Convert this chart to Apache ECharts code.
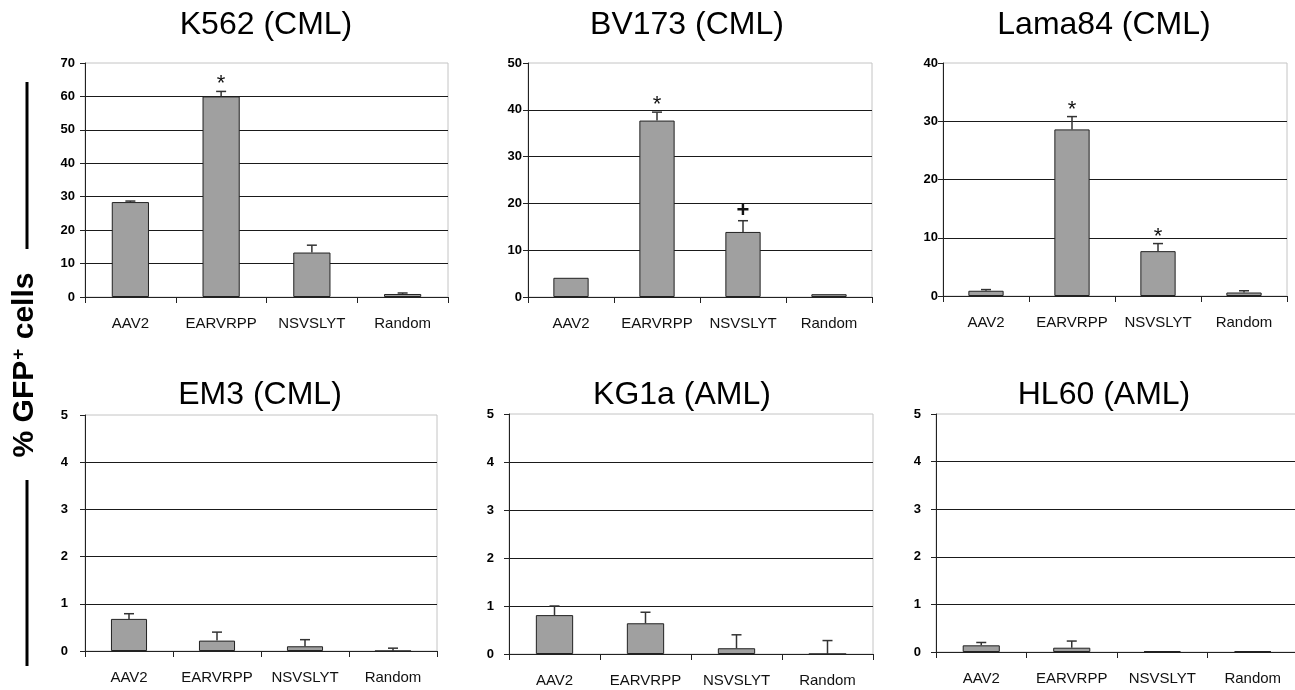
<!DOCTYPE html>
<html><head><meta charset="utf-8">
<script src="https://cdn.jsdelivr.net/npm/echarts@6/dist/echarts.min.js"></script>
<style>html,body{margin:0;padding:0;background:#fff}#c{width:1295px;height:690px}</style>
</head><body><div id="c"></div>
<script>
// ---------- data ----------
const categories = ['AAV2', 'EARVRPP', 'NSVSLYT', 'Random'];
const panelTitles = ['K562 (CML)', 'BV173 (CML)', 'Lama84 (CML)', 'EM3 (CML)', 'KG1a (AML)', 'HL60 (AML)'];

const k562Mean = [28.4, 60.0, 13.3, 0.9];
const k562Err = [0.3, 1.5, 2.2, 0.3];
const k562Marks = ['', '*', '', ''];

const bv173Mean = [4.1, 37.7, 13.9, 0.6];
const bv173Err = [0, 1.8, 2.4, 0];
const bv173Marks = ['', '*', '+', ''];

const lama84Mean = [0.9, 28.6, 7.7, 0.6];
const lama84Err = [0.2, 2.2, 1.3, 0.3];
const lama84Marks = ['', '*', '*', ''];

const em3Mean = [0.68, 0.22, 0.10, 0];
const em3Err = [0.11, 0.18, 0.14, 0.06];
const em3Marks = ['', '', '', ''];

const kg1aMean = [0.81, 0.64, 0.12, 0];
const kg1aErr = [0.19, 0.23, 0.28, 0.28];
const kg1aMarks = ['', '', '', ''];

const hl60Mean = [0.14, 0.09, 0.02, 0.02];
const hl60Err = [0.06, 0.14, 0, 0];
const hl60Marks = ['', '', '', ''];

const yMaxes = [70, 50, 40, 5, 5, 5];
const yIntervals = [10, 10, 10, 1, 1, 1];

// ---------- build ----------
const panels = [
  [k562Mean, k562Err, k562Marks],
  [bv173Mean, bv173Err, bv173Marks],
  [lama84Mean, lama84Err, lama84Marks],
  [em3Mean, em3Err, em3Marks],
  [kg1aMean, kg1aErr, kg1aMarks],
  [hl60Mean, hl60Err, hl60Marks]
];
const layout = [
  {left: 85,  top: 63,  width: 363, height: 234, tx: 266, ty: 25, lm: 10},
  {left: 528, top: 63,  width: 344, height: 234, tx: 687, ty: 25, lm: 6},
  {left: 943, top: 63,  width: 344, height: 233, tx: 1104, ty: 25, lm: 5},
  {left: 85,  top: 415, width: 352, height: 236, tx: 260, ty: 395, lm: 17},
  {left: 509, top: 414, width: 364, height: 240, tx: 682, ty: 395, lm: 15},
  {left: 936, top: 414, width: 362, height: 238, tx: 1104, ty: 395, lm: 15}
];
const FONT = "'Liberation Sans', Arial, sans-serif";

const grid = [], xAxis = [], yAxis = [], series = [], graphic = [];
panels.forEach(function (p, k) {
  const L = layout[k];
  grid.push({left: L.left, top: L.top, width: L.width, height: L.height,
    show: true, borderColor: '#c4c4c4', borderWidth: 1, outerBoundsMode: 'none', containLabel: false});
  xAxis.push({type: 'category', gridIndex: k, data: categories,
    axisLine: {lineStyle: {color: '#222', width: 1}},
    axisTick: {show: true, length: 6, lineStyle: {color: '#222'}},
    axisLabel: {color: '#111', fontSize: 15, fontFamily: FONT, margin: 19, interval: 0},
    splitLine: {show: false}});
  yAxis.push({type: 'value', gridIndex: k, min: 0, max: yMaxes[k], interval: yIntervals[k],
    axisLine: {show: true, lineStyle: {color: '#222', width: 1}},
    axisTick: {show: true, length: 5, lineStyle: {color: '#222'}},
    axisLabel: {color: '#000', fontSize: 13, fontWeight: 'bold', fontFamily: FONT, margin: L.lm},
    splitLine: {show: true, showMaxLine: false, lineStyle: {color: '#1a1a1a', width: 1}}});
  series.push({type: 'bar', xAxisIndex: k, yAxisIndex: k, data: p[0], barWidth: '41%',
    itemStyle: {color: '#a0a0a0', borderColor: '#222', borderWidth: 1}, silent: true, z: 2});
  const marks = p[2];
  series.push({type: 'custom', xAxisIndex: k, yAxisIndex: k, z: 5, silent: true, clip: false,
    data: p[0].map(function (m, i) { return [i, m, m + p[1][i]]; }),
    renderItem: function (params, api) {
      const i = api.value(0), m = api.value(1), t = api.value(2);
      const b = api.coord([i, m]), tp = api.coord([i, t]);
      const ch = [];
      if (t > m) {
        ch.push({type: 'line', shape: {x1: b[0], y1: b[1], x2: tp[0], y2: tp[1]}, style: {stroke: '#333', lineWidth: 1.5}});
        ch.push({type: 'line', shape: {x1: tp[0] - 5, y1: tp[1], x2: tp[0] + 5, y2: tp[1]}, style: {stroke: '#333', lineWidth: 1.5}});
      }
      const mk = marks[params.dataIndex];
      if (mk) {
        const isPlus = mk === '+';
        ch.push({type: 'text', style: {text: mk, x: tp[0], y: tp[1] - (isPlus ? 10 : 7), align: 'center', verticalAlign: 'middle',
          fontSize: 22, fontWeight: isPlus ? 'bold' : 'normal', fontFamily: FONT, fill: '#111'}});
      }
      return {type: 'group', children: ch};
    }});
  graphic.push({type: 'text', x: L.tx, y: L.ty, silent: true,
    style: {text: panelTitles[k], align: 'center', verticalAlign: 'middle', fontSize: 32, fontFamily: FONT, fill: '#000'}});
});

graphic.push({type: 'text', x: 25, y: 365, rotation: Math.PI / 2, silent: true,
  style: {text: '% GFP{sup|+} cells', align: 'center', verticalAlign: 'middle', fontSize: 30, fontWeight: 'bold', fontFamily: FONT, fill: '#000',
    rich: {sup: {fontSize: 19, fontWeight: 'bold', fontFamily: FONT, fill: '#000', verticalAlign: 'top', padding: [0, 1, 12, 1]}}}});
graphic.push({type: 'line', silent: true, shape: {x1: 27, y1: 82, x2: 27, y2: 249}, style: {stroke: '#000', lineWidth: 3}});
graphic.push({type: 'line', silent: true, shape: {x1: 27, y1: 480, x2: 27, y2: 666}, style: {stroke: '#000', lineWidth: 3}});

const chart = echarts.init(document.getElementById('c'), null, {renderer: 'canvas'});
chart.setOption({animation: false, backgroundColor: '#fff', grid: grid, xAxis: xAxis, yAxis: yAxis, series: series, graphic: graphic});
</script></body></html>
